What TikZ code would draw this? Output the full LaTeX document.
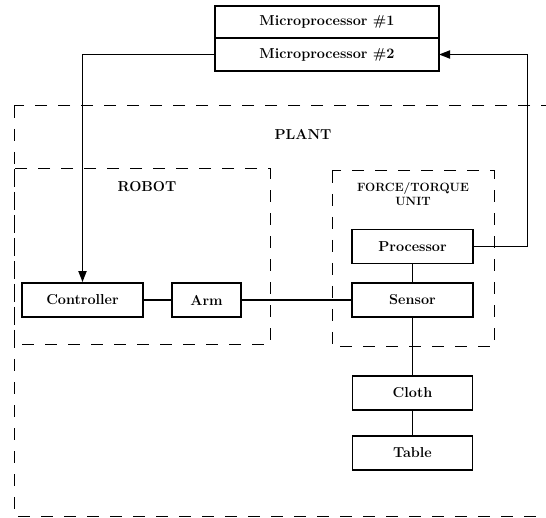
\documentclass[tikz,border=0pt]{standalone}
\usepackage{tikz}
\usetikzlibrary{positioning,arrows.meta}

\begin{document}
\begin{tikzpicture}[
  x=1pt, y=-1pt,
  font=\fontsize{14.4}{16}\selectfont\bfseries,
  box/.style   ={draw, line width=1.8pt, align=center, inner sep=2pt, minimum height=34pt, minimum width=121pt},
  mpbox/.style ={draw, line width=1.8pt, align=center, inner sep=2pt, outer sep=0pt, minimum height=32.5pt, minimum width=224pt},
  area/.style  ={draw, line width=1pt, dash pattern=on 12pt off 11pt},
  lbl/.style   ={align=center, inner sep=1pt},
  arr/.style   ={-{Triangle[length=11pt,width=8pt]}, line width=1.8pt},
  con/.style   ={line width=1.8pt},
  node distance=22pt
]
\clip (0,0) rectangle (546,518);

% ---- dashed areas ----
\draw[area] (14,106) rectangle (552,516);
\draw[area] (14,169) rectangle (270,345);
\draw[area] (332,171) rectangle (494,347);
\node[lbl] (plant) at (303,134) {PLANT};
\node[lbl] (robot) at (147,187) {ROBOT};
\node[lbl, font=\fontsize{12}{14.5}\selectfont\bfseries] (ftu) at (413,194) {FORCE/TORQUE\\UNIT};

% ---- microprocessors ----
\node[mpbox] (mp1) at (327,22) {Microprocessor \#1};
\node[mpbox, below=0pt of mp1] (mp2) {Microprocessor \#2};

% ---- robot ----
\node[box] (ctrl) at (82.5,300) {Controller};
\node[box, minimum width=69pt] (arm) at (206.5,300) {Arm};

% ---- force/torque unit and below ----
\node[box] (proc) at (412.5,246.5) {Processor};
\node[box] (sens) at (412.5,300) {Sensor};
\node[box, minimum width=120pt] (cloth) at (412.5,393) {Cloth};
\node[box, minimum width=120pt, below=24pt of cloth] (table) {Table};

\draw[con] (ctrl) -- (arm);
\draw[con] (arm) -- (sens);
\draw[con] (proc) -- (sens);
\draw[con] (sens) -- (cloth);
\draw[con] (cloth) -- (table);
\draw[arr] (mp2.west) -| (ctrl.north);
\draw[arr] (proc.east) -- ++(53.5,0) |- (mp2.east);

\end{tikzpicture}
\end{document}
